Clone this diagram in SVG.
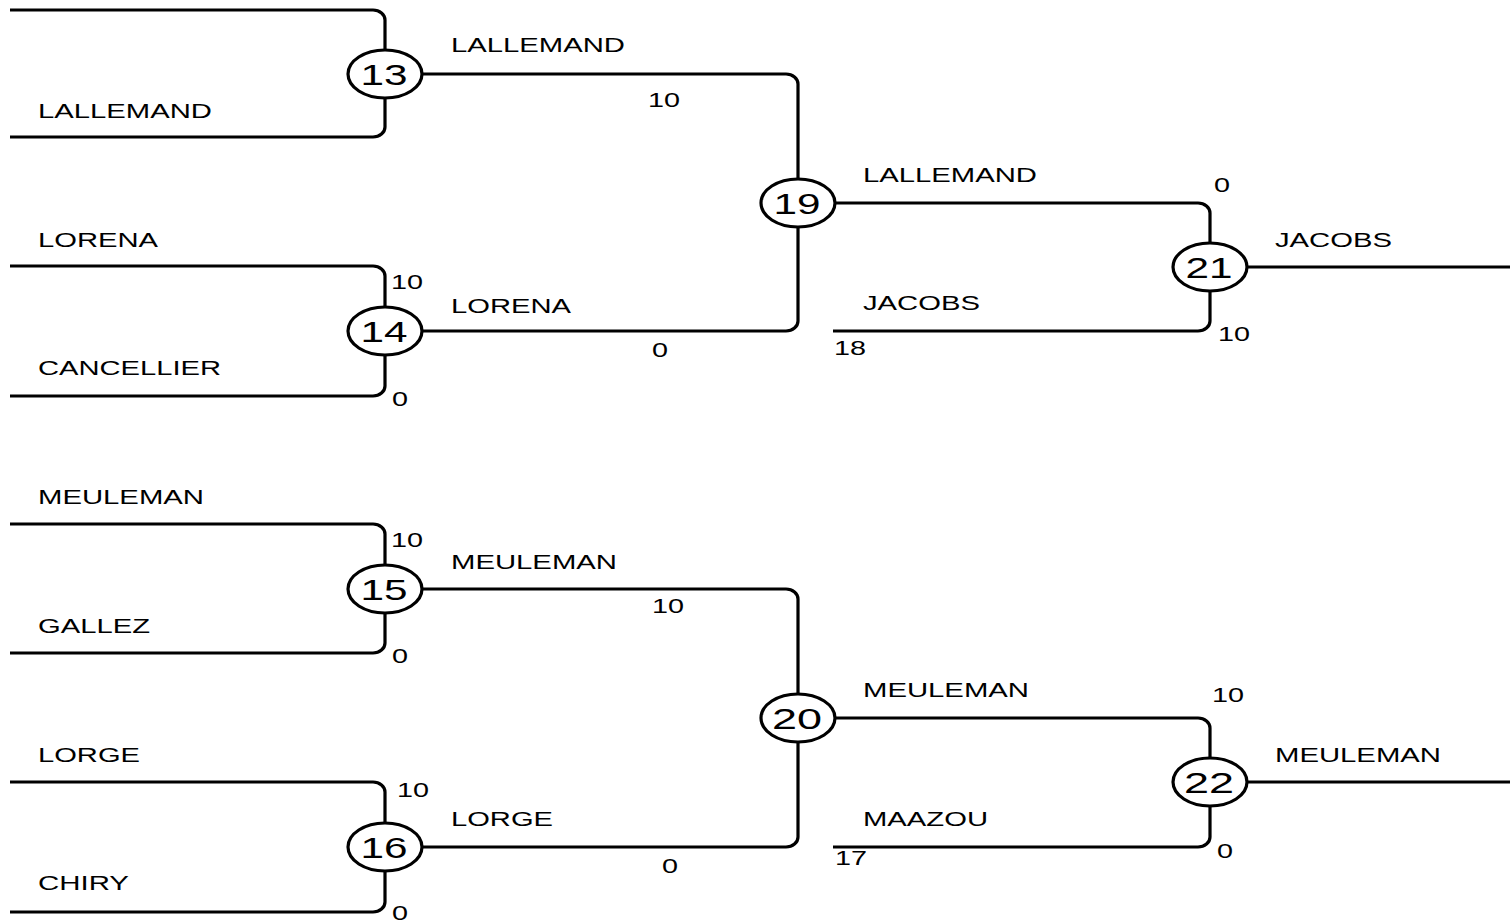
<svg xmlns="http://www.w3.org/2000/svg" width="1510" height="922" viewBox="0 0 1510 922">
<style>
.c{fill:none;stroke:#000;stroke-width:3.2;stroke-linejoin:round}
.n{fill:#fff;stroke:#000;stroke-width:3.2}
.t{font-family:"Liberation Sans",Arial,sans-serif;font-size:20px;fill:#000}
.nt{font-family:"Liberation Sans",Arial,sans-serif;font-size:29px;fill:#000;text-anchor:middle}
</style>
<rect width="1510" height="922" fill="#fff"/>
<g id="connectors">
<path class="c" d="M10,10 H373 A12,10 0 0 1 385,20 V50"/>
<path class="c" d="M10,137 H373 A12,10 0 0 0 385,127 V98"/>
<path class="c" d="M422,74 H786 A12,10 0 0 1 798,84 V179"/>
<path class="c" d="M10,266 H373 A12,10 0 0 1 385,276 V307"/>
<path class="c" d="M10,396 H373 A12,10 0 0 0 385,386 V355"/>
<path class="c" d="M422,331 H786 A12,10 0 0 0 798,321 V227"/>
<path class="c" d="M835,203 H1198 A12,10 0 0 1 1210,213 V243"/>
<path class="c" d="M833,331 H1198 A12,10 0 0 0 1210,321 V291"/>
<path class="c" d="M1247,267 H1510"/>
<path class="c" d="M10,524 H373 A12,10 0 0 1 385,534 V565"/>
<path class="c" d="M10,653 H373 A12,10 0 0 0 385,643 V613"/>
<path class="c" d="M422,589 H786 A12,10 0 0 1 798,599 V694"/>
<path class="c" d="M10,782 H373 A12,10 0 0 1 385,792 V823"/>
<path class="c" d="M10,912 H373 A12,10 0 0 0 385,902 V871"/>
<path class="c" d="M422,847 H786 A12,10 0 0 0 798,837 V742"/>
<path class="c" d="M835,718 H1198 A12,10 0 0 1 1210,728 V758"/>
<path class="c" d="M833,847 H1198 A12,10 0 0 0 1210,837 V806"/>
<path class="c" d="M1247,782 H1510"/>
</g>
<g id="labels">
<text class="t" x="38" y="118" textLength="174" lengthAdjust="spacingAndGlyphs">LALLEMAND</text>
<text class="t" x="451" y="52" textLength="174" lengthAdjust="spacingAndGlyphs">LALLEMAND</text>
<text class="t" x="648" y="107" textLength="32" lengthAdjust="spacingAndGlyphs">10</text>
<text class="t" x="38" y="247" textLength="120" lengthAdjust="spacingAndGlyphs">LORENA</text>
<text class="t" x="391" y="289" textLength="32" lengthAdjust="spacingAndGlyphs">10</text>
<text class="t" x="451" y="313" textLength="120" lengthAdjust="spacingAndGlyphs">LORENA</text>
<text class="t" x="652" y="357" textLength="16" lengthAdjust="spacingAndGlyphs">0</text>
<text class="t" x="38" y="375" textLength="183" lengthAdjust="spacingAndGlyphs">CANCELLIER</text>
<text class="t" x="392" y="406" textLength="16" lengthAdjust="spacingAndGlyphs">0</text>
<text class="t" x="863" y="182" textLength="174" lengthAdjust="spacingAndGlyphs">LALLEMAND</text>
<text class="t" x="1214" y="192" textLength="16" lengthAdjust="spacingAndGlyphs">0</text>
<text class="t" x="1275" y="247" textLength="117" lengthAdjust="spacingAndGlyphs">JACOBS</text>
<text class="t" x="863" y="310" textLength="117" lengthAdjust="spacingAndGlyphs">JACOBS</text>
<text class="t" x="834" y="355" textLength="32" lengthAdjust="spacingAndGlyphs">18</text>
<text class="t" x="1218" y="341" textLength="32" lengthAdjust="spacingAndGlyphs">10</text>
<text class="t" x="38" y="504" textLength="166" lengthAdjust="spacingAndGlyphs">MEULEMAN</text>
<text class="t" x="391" y="547" textLength="32" lengthAdjust="spacingAndGlyphs">10</text>
<text class="t" x="451" y="569" textLength="166" lengthAdjust="spacingAndGlyphs">MEULEMAN</text>
<text class="t" x="652" y="613" textLength="32" lengthAdjust="spacingAndGlyphs">10</text>
<text class="t" x="38" y="633" textLength="112" lengthAdjust="spacingAndGlyphs">GALLEZ</text>
<text class="t" x="392" y="663" textLength="16" lengthAdjust="spacingAndGlyphs">0</text>
<text class="t" x="863" y="697" textLength="166" lengthAdjust="spacingAndGlyphs">MEULEMAN</text>
<text class="t" x="1212" y="702" textLength="32" lengthAdjust="spacingAndGlyphs">10</text>
<text class="t" x="1275" y="762" textLength="166" lengthAdjust="spacingAndGlyphs">MEULEMAN</text>
<text class="t" x="38" y="762" textLength="102" lengthAdjust="spacingAndGlyphs">LORGE</text>
<text class="t" x="397" y="797" textLength="32" lengthAdjust="spacingAndGlyphs">10</text>
<text class="t" x="451" y="826" textLength="102" lengthAdjust="spacingAndGlyphs">LORGE</text>
<text class="t" x="662" y="873" textLength="16" lengthAdjust="spacingAndGlyphs">0</text>
<text class="t" x="863" y="826" textLength="125" lengthAdjust="spacingAndGlyphs">MAAZOU</text>
<text class="t" x="835" y="865" textLength="32" lengthAdjust="spacingAndGlyphs">17</text>
<text class="t" x="1217" y="858" textLength="16" lengthAdjust="spacingAndGlyphs">0</text>
<text class="t" x="38" y="890" textLength="91" lengthAdjust="spacingAndGlyphs">CHIRY</text>
<text class="t" x="392" y="920" textLength="16" lengthAdjust="spacingAndGlyphs">0</text>
</g>
<g id="node13"><ellipse class="n" cx="385" cy="74" rx="37" ry="24"/><text class="nt" x="384" y="85" textLength="47" lengthAdjust="spacingAndGlyphs">13</text></g>
<g id="node14"><ellipse class="n" cx="385" cy="331" rx="37" ry="24"/><text class="nt" x="384" y="342" textLength="47" lengthAdjust="spacingAndGlyphs">14</text></g>
<g id="node19"><ellipse class="n" cx="798" cy="203" rx="37" ry="24"/><text class="nt" x="797" y="214" textLength="47" lengthAdjust="spacingAndGlyphs">19</text></g>
<g id="node21"><ellipse class="n" cx="1210" cy="267" rx="37" ry="24"/><text class="nt" x="1209" y="278" textLength="47" lengthAdjust="spacingAndGlyphs">21</text></g>
<g id="node15"><ellipse class="n" cx="385" cy="589" rx="37" ry="24"/><text class="nt" x="384" y="600" textLength="47" lengthAdjust="spacingAndGlyphs">15</text></g>
<g id="node16"><ellipse class="n" cx="385" cy="847" rx="37" ry="24"/><text class="nt" x="384" y="858" textLength="47" lengthAdjust="spacingAndGlyphs">16</text></g>
<g id="node20"><ellipse class="n" cx="798" cy="718" rx="37" ry="24"/><text class="nt" x="797" y="729" textLength="50" lengthAdjust="spacingAndGlyphs">20</text></g>
<g id="node22"><ellipse class="n" cx="1210" cy="782" rx="37" ry="24"/><text class="nt" x="1209" y="793" textLength="50" lengthAdjust="spacingAndGlyphs">22</text></g>
</svg>
